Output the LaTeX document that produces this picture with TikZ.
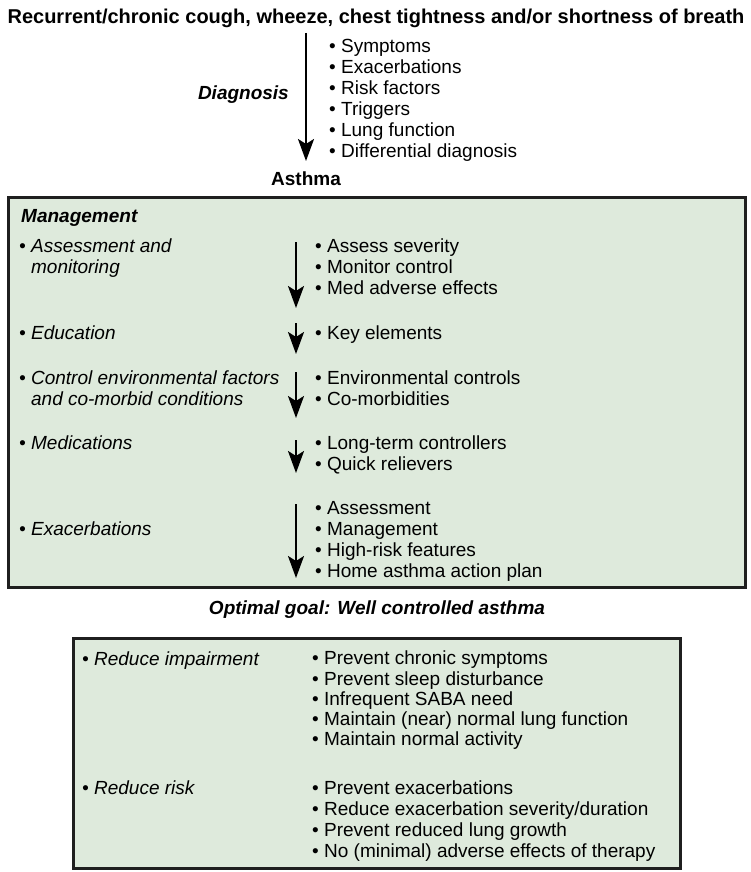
\documentclass[tikz,border=0pt]{standalone}
\usepackage{fontspec}
\setmainfont{Liberation Sans}
\usetikzlibrary{arrows.meta}
\definecolor{panelgreen}{RGB}{222,234,220}
\newcommand\bl{\strut\textbullet\ }
\newcommand\ind{\strut\phantom{\textbullet\ }}

\begin{document}
\begin{tikzpicture}[x=1pt, y=-1pt,
    every node/.style={inner sep=0pt, font=\fontsize{19}{21}\selectfont},
    heading/.style={font=\fontsize{19}{21}\selectfont\bfseries},
    topic/.style={anchor=north west, align=left, font=\fontsize{19}{21}\selectfont\itshape},
    items/.style={anchor=north west, align=left},
    panel/.style={draw=black!88, line width=3pt, fill=panelgreen},
    flow/.style={line width=2.2pt, -{Stealth[length=22pt,width=16pt,inset=5pt]}}]
   \useasboundingbox (0,0) rectangle (750,872);

   % diagnosis
   \node[heading, font=\fontsize{20}{22}\selectfont\bfseries, anchor=base] (complaint) at (376,24)
     {Recurrent/chronic cough, wheeze, chest tightness and/or shortness of breath};
   \node[items] (workup) at (329,37.3) {\bl Symptoms\\ \bl Exacerbations\\ \bl Risk factors\\
     \bl Triggers\\ \bl Lung function\\ \bl Differential diagnosis};
   \node[heading, font=\fontsize{19}{21}\selectfont\bfseries\itshape, anchor=base east] (diag) at (289,100) {Diagnosis};
   \node[heading, anchor=base] (asthma) at (306,185) {Asthma};
   \coordinate (d0) at (306,33);
   \coordinate (d1) at (306,161);
   \draw[flow] (d0) -- (d1);

   % management
   \draw[panel] (8,197) rectangle (745,587);
   \node[heading, font=\fontsize{19}{21}\selectfont\bfseries\itshape, anchor=base west] (mgmt) at (21,222) {Management};

   \node[topic] (assess) at (19,237.3) {\bl Assessment and\\ \ind monitoring};
   \node[topic] (educ) at (19,324.3) {\bl Education};
   \node[topic] (envir) at (19,369.3) {\bl Control environmental factors\\ \ind and co-morbid conditions};
   \node[topic] (meds) at (19,434.3) {\bl Medications};
   \node[topic] (exac) at (19,520.3) {\bl Exacerbations};

   \node[items] (assessL) at (315,237.3) {\bl Assess severity\\ \bl Monitor control\\ \bl Med adverse effects};
   \node[items] (educL) at (315,324.3) {\bl Key elements};
   \node[items] (envirL) at (315,369.3) {\bl Environmental controls\\ \bl Co-morbidities};
   \node[items] (medsL) at (315,434.3) {\bl Long-term controllers\\ \bl Quick relievers};
   \node[items] (exacL) at (315,499.3) {\bl Assessment\\ \bl Management\\ \bl High-risk features\\
     \bl Home asthma action plan};

   \foreach \n/\ya/\yb in {1/242/308, 2/323/354, 3/372/418, 4/440/473, 5/504/578} {
     \coordinate (s\n) at (296,\ya);
     \coordinate (e\n) at (296,\yb);
     \draw[flow] (s\n) -- (e\n);
   }

   % goal
   \node[heading, font=\fontsize{19}{21}\selectfont\bfseries\itshape, anchor=base] (goal) at (377,614)
     {Optimal goal: Well controlled asthma};
   \draw[panel] (73,638) rectangle (680,868);
   \node[topic] (impair) at (82,650.3) {\bl Reduce impairment};
   \node[topic] (risk) at (82,779.3) {\bl Reduce risk};
   \node[items, font=\fontsize{19}{20.3}\selectfont] (impairL) at (312,650.3) {\bl Prevent chronic symptoms\\ \bl Prevent sleep disturbance\\
     \bl Infrequent SABA need\\ \bl Maintain (near) normal lung function\\ \bl Maintain normal activity};
   \node[items] (riskL) at (312,779.3) {\bl Prevent exacerbations\\ \bl Reduce exacerbation severity/duration\\
     \bl Prevent reduced lung growth\\ \bl No (minimal) adverse effects of therapy};
 \end{tikzpicture}
\end{document}
